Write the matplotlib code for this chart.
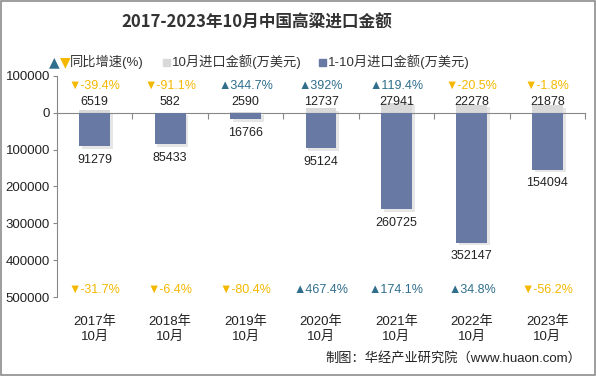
import matplotlib
matplotlib.use("Agg")
import matplotlib.pyplot as plt
import matplotlib.patheffects as pe
from matplotlib.patches import Rectangle
import numpy as np

plt.rcParams['font.family'] = ['Liberation Sans', 'Noto Sans CJK SC', 'DejaVu Sans']

# data
years = ["2017年\n10月", "2018年\n10月", "2019年\n10月", "2020年\n10月",
         "2021年\n10月", "2022年\n10月", "2023年\n10月"]
oct_value = [6519, 582, 2590, 12737, 27941, 22278, 21878]
ytd_value = [91279, 85433, 16766, 95124, 260725, 352147, 154094]
oct_growth = [-39.4, -91.1, 344.7, 392, 119.4, -20.5, -1.8]
ytd_growth = [-31.7, -6.4, -80.4, 467.4, 174.1, 34.8, -56.2]

UP = "#2f6e8c"
DOWN = "#f5b800"
BAR = "#687aa3"
GRAY = "#d9d9d9"

fig = plt.figure(figsize=(5.96, 3.76), dpi=100)
fig.patches.append(Rectangle((0.001, 0.002), 0.997, 0.996, transform=fig.transFigure,
                             fill=False, edgecolor="#8c8c8c", linewidth=1.2))
ax = fig.add_axes([0.0956, 0.210, 0.886, 0.588])

x = np.arange(len(years))
w = 0.41
shadow = [pe.SimplePatchShadow(offset=(2, -2), shadow_rgbFace="#c8c8c8", alpha=0.45), pe.Normal()]
ax.bar(x, [-v for v in oct_value], width=w, color=GRAY, zorder=2, path_effects=shadow)
ax.bar(x, ytd_value, width=w, color=BAR, zorder=3, path_effects=shadow)

ax.set_xlim(-0.5, len(years) - 0.5)
ax.set_ylim(500000, -100000)
yt = np.arange(-100000, 500001, 100000)
ax.set_yticks(yt)
ax.set_yticklabels([f"{abs(int(v))}" for v in yt], fontsize=9.5, color="#222222")
ax.tick_params(axis="y", length=3, color="#888888", pad=2)

for s in ["top", "right"]:
    ax.spines[s].set_visible(False)
ax.spines["left"].set_color("#888888")
ax.spines["bottom"].set_position(("data", 0))
ax.spines["bottom"].set_color("#888888")
ax.set_xticks(x + 0.5)
ax.set_xticklabels([""] * len(x))
ax.tick_params(axis="x", length=4, color="#888888", direction="out")

for i in x:
    ax.text(i, -30000, f"{oct_value[i]}", ha="center", va="center", fontsize=9, color="#222222")
    ax.annotate(f"{ytd_value[i]}", (i, ytd_value[i]), xytext=(0, -10), textcoords="offset points",
                ha="center", va="center", fontsize=9, color="#222222")
    g = oct_growth[i]
    ax.text(i, -73000, ("▲" if g > 0 else "▼") + f"{g:g}%", ha="center", va="center",
            fontsize=9, color=UP if g > 0 else DOWN)
    g = ytd_growth[i]
    ax.text(i, 481000, ("▲" if g > 0 else "▼") + f"{g:g}%", ha="center", va="center",
            fontsize=9, color=UP if g > 0 else DOWN)
    ax.text(i, -0.145, years[i], transform=ax.get_xaxis_transform(), ha="center", va="center",
            fontsize=9.5, color="#222222", linespacing=1.4)

fig.text(0.43, 0.94, "2017-2023年10月中国高粱进口金额", ha="center", va="center",
         fontsize=12, fontweight="bold", color="#333333", family=["Noto Sans CJK SC"])

# legend
ly = 0.835
fig.text(0.082, ly, "▲", color=UP, fontsize=10, ha="left", va="center", family=["DejaVu Sans"])
fig.text(0.100, ly, "▼", color=DOWN, fontsize=10, ha="left", va="center", family=["DejaVu Sans"])
fig.text(0.118, ly, "同比增速(%)", color="#333333", fontsize=9.5, ha="left", va="center")
fig.patches.append(Rectangle((0.273, ly - 0.011), 0.012, 0.020, transform=fig.transFigure, color=GRAY))
fig.text(0.288, ly, "10月进口金额(万美元)", color="#333333", fontsize=9.5, ha="left", va="center")
fig.patches.append(Rectangle((0.535, ly - 0.011), 0.012, 0.020, transform=fig.transFigure, color=BAR))
fig.text(0.550, ly, "1-10月进口金额(万美元)", color="#333333", fontsize=9.5, ha="left", va="center")

fig.text(0.975, 0.048, "制图：华经产业研究院（www.huaon.com）", ha="right", va="center",
         fontsize=9.5, color="#222222")

fig.savefig("out.png", dpi=100)
